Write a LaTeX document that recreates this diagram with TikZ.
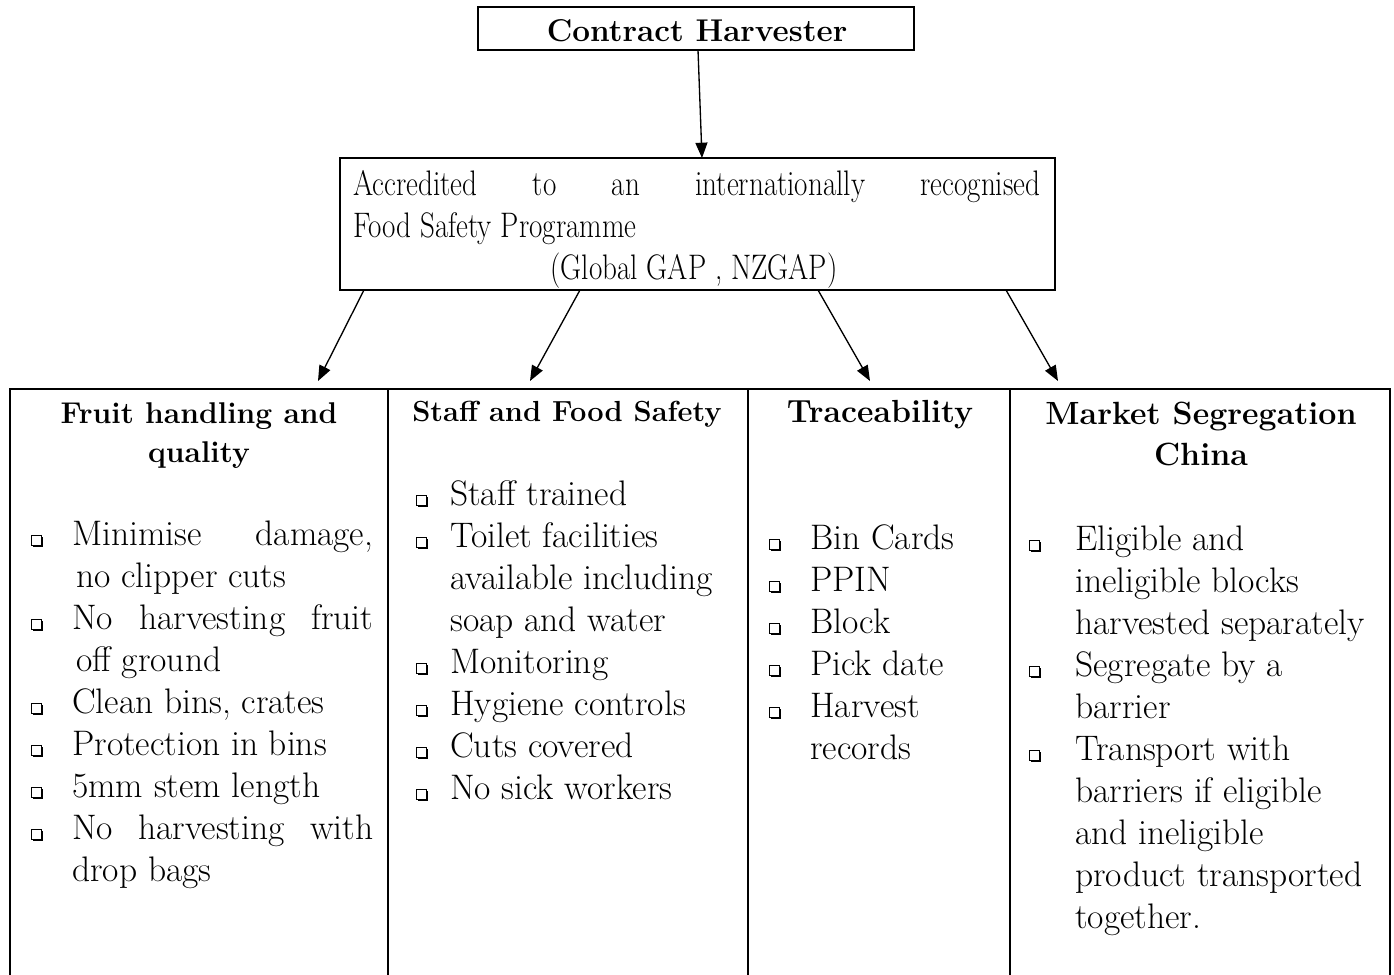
\documentclass[tikz,border=0pt]{standalone}
\usepackage{fontspec}
\usetikzlibrary{arrows.meta,fit}
\newcommand\bodyf{\fontsize{26.6}{32}\selectfont}
\begin{document}
\begin{tikzpicture}[x=0.75pt,y=-0.75pt,
  box/.style={draw, line width=1.5pt, inner sep=0pt},
  arr/.style={-{Triangle[length=11.5pt,width=9pt]}, line width=1pt},
  txt/.style={anchor=base west, inner sep=0pt, font=\bodyf},
  ctxt/.style={anchor=base, inner sep=0pt, font=\bodyf},
  hd/.style={anchor=base, inner sep=0pt},
  bx/.pic={\fill (1.8,1.8) rectangle (11.8,-8.2);
           \filldraw[fill=white,line width=0.7pt] (0,0) rectangle (10,-10);}
]
\useasboundingbox (0,0) rectangle (1394,974);
\fill[white] (0,0) rectangle (1394,974);

% top box
\node[box, fit={(478,7) (914,50)}] (top) {};
\node[hd, font=\fontsize{23.6}{28}\selectfont\bfseries] (toptxt) at (697,41) {Contract Harvester};

% middle box
\node[box, fit={(340,158) (1055,290)}] (mid) {};
\node[txt] (m1) at (353,195) {\scalebox{0.82}[1]{\makebox[628.4pt][s]{Accredited to an internationally recognised}}};
\node[txt] (m2) at (353,237) {\scalebox{0.82}[1]{Food Safety Programme}};
\node[ctxt] (m3) at (694,279) {\scalebox{0.82}[1]{(Global GAP , NZGAP)}};

% arrows
\coordinate (t0) at (698,50);
\coordinate (t1) at (702,158);
\draw[arr] (t0) -- (t1);
\coordinate (s1) at (364,290); \coordinate (e1) at (318,381);
\coordinate (s2) at (580,290); \coordinate (e2) at (530,381);
\coordinate (s3) at (818,290); \coordinate (e3) at (870,381);
\coordinate (s4) at (1006,290); \coordinate (e4) at (1058,381);
\foreach \k in {1,2,3,4} \draw[arr] (s\k) -- (e\k);

% table columns
\node[box, fit={(10,389) (388,1000)}] (c1) {};
\node[box, fit={(388,389) (748,1000)}] (c2) {};
\node[box, fit={(748,389) (1010,1000)}] (c3) {};
\node[box, fit={(1010,389) (1390,1000)}] (c4) {};

% headings
\node[hd, font=\fontsize{22.5}{26}\selectfont\bfseries] (h1a) at (199,423) {Fruit handling and};
\node[hd, font=\fontsize{22.5}{26}\selectfont\bfseries] (h1b) at (199,462) {quality};
\node[hd, font=\fontsize{21.8}{26}\selectfont\bfseries] (h2) at (567,421) {Staff and Food Safety};
\node[hd, font=\fontsize{24}{26}\selectfont\bfseries] (h3) at (880,422) {Traceability};
\node[hd, font=\fontsize{24.1}{26}\selectfont\bfseries] (h4a) at (1201,424) {Market Segregation};
\node[hd, font=\fontsize{24.1}{26}\selectfont\bfseries] (h4b) at (1201,465) {China};

% column 1
\node[txt] (a0) at (72,545) {\makebox[225.75pt][s]{Minimise damage,}};
\node[txt] (a1) at (76,587) {no clipper cuts};
\node[txt] (a2) at (72,629) {\makebox[225.75pt][s]{No harvesting fruit}};
\node[txt] (a3) at (76,671) {off ground};
\node[txt] (a4) at (72,713) {Clean bins, crates};
\node[txt] (a5) at (72,755) {Protection in bins};
\node[txt] (a6) at (72,797) {5mm stem length};
\node[txt] (a7) at (72,839) {\makebox[225.75pt][s]{No harvesting with}};
\node[txt] (a8) at (72,881) {drop bags};
\foreach \i in {0,2,4,5,6,7} \pic at (31,{545+42*\i}) {bx};

% column 2
\foreach \t [count=\i from 0] in {Staff trained, Toilet facilities, available including, soap and water, Monitoring, Hygiene controls, Cuts covered, No sick workers}
  \node[txt] (b\i) at (450,{505+42*\i}) {\t};
\foreach \i in {0,1,4,5,6,7} \pic at (416,{505+42*\i}) {bx};

% column 3
\foreach \t [count=\i from 0] in {Bin Cards, PPIN, Block, Pick date, Harvest, records}
  \node[txt] (d\i) at (810,{549+42*\i}) {\t};
\foreach \i in {0,1,2,3,4} \pic at (769,{549+42*\i}) {bx};

% column 4
\foreach \t [count=\i from 0] in {Eligible and, ineligible blocks, harvested separately, Segregate by a, barrier, Transport with, barriers if eligible, and ineligible, product transported, together.}
  \node[txt] (g\i) at (1075,{550+42*\i}) {\t};
\foreach \i in {0,3,5} \pic at (1029,{550+42*\i}) {bx};
\end{tikzpicture}
\end{document}
